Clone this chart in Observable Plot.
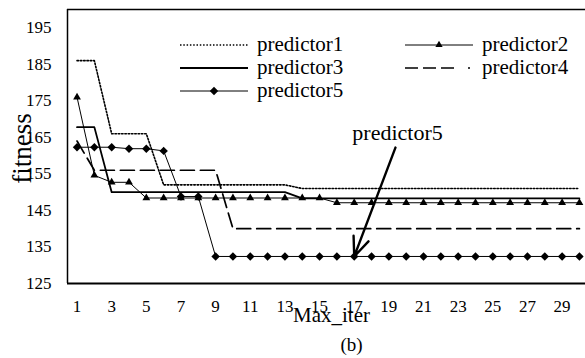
<!DOCTYPE html>
<html>
<head>
<meta charset="utf-8">
<script src="https://cdn.jsdelivr.net/npm/d3@7"></script>
<script src="https://cdn.jsdelivr.net/npm/@observablehq/plot@0.6"></script>
<style>
  html, body { margin: 0; padding: 0; background: #fff; }
  #chart { position: relative; width: 585px; height: 358px; }
  #chart svg, #chart svg text { font-family: "Liberation Serif", "Times New Roman", serif !important; }
</style>
</head>
<body>
<div id="chart"></div>
<script>
// ---- data ----
const iterations = [1,2,3,4,5,6,7,8,9,10,11,12,13,14,15,16,17,18,19,20,21,22,23,24,25,26,27,28,29,30];
const seriesNames = ["predictor1", "predictor2", "predictor3", "predictor4", "predictor5"];
const predictor1 = [186,186,166,166,166,152,152,152,152,152,152,152,152,151,151,151,151,151,151,151,151,151,151,151,151,151,151,151,151,151];
const predictor2 = [176,154.6,152.7,152.7,148.4,148.4,148.4,148.4,148.4,148.4,148.4,148.4,148.4,148.4,148.4,147.1,147.1,147.1,147.1,147.1,147.1,147.1,147.1,147.1,147.1,147.1,147.1,147.1,147.1,147.1];
const predictor3 = [167.8,167.8,150,150,150,150,150,150,150,150,150,150,150,148.3,148.3,148.3,148.3,148.3,148.3,148.3,148.3,148.3,148.3,148.3,148.3,148.3,148.3,148.3,148.3,148.3];
const predictor4 = [164,156,156,156,156,156,156,156,156,140,140,140,140,140,140,140,140,140,140,140,140,140,140,140,140,140,140,140,140,140];
const predictor5 = [162.3,162.3,162.3,161.9,161.9,161.3,148.8,148.8,132.4,132.4,132.4,132.4,132.4,132.4,132.4,132.4,132.4,132.4,132.4,132.4,132.4,132.4,132.4,132.4,132.4,132.4,132.4,132.4,132.4,132.4];
const xTicks = [1,3,5,7,9,11,13,15,17,19,21,23,25,27,29];
const yTicks = [125,135,145,155,165,175,185,195];
const xDomain = [0.45, 30.35];
const yDomain = [125, 200];
const xLabel = "Max_iter";
const yLabel = "fitness";
const caption = "(b)";
const annotationText = ["predictor5"];
const annotationAt = [19.5, 166.2];      // text position (x, fitness)
const arrowFrom = [19.38, 162.2];        // arrow tail (x, fitness)
const arrowTo = [17, 132.4];             // arrow tip (x, fitness)

// ---- build table ----
const valuesBy = {predictor1, predictor2, predictor3, predictor4, predictor5};
const rows = seriesNames.flatMap(name => iterations.map((it, i) => ({series: name, iter: it, fitness: valuesBy[name][i]})));
const of = name => rows.filter(d => d.series === name);

const font = "'Liberation Serif', 'Times New Roman', serif";

const chart = Plot.plot({
  width: 585,
  height: 358,
  marginLeft: 67,
  marginRight: 0,
  marginTop: 9,
  marginBottom: 75,
  style: {fontFamily: font, background: "white", color: "black", overflow: "visible"},
  x: {domain: xDomain},
  y: {domain: yDomain},
  marks: [
    Plot.axisX({ticks: xTicks, tickSize: 0, tickPadding: 16, fontSize: 17, label: null}),
    Plot.axisY({ticks: yTicks, tickSize: 0, tickPadding: 16, fontSize: 17, label: null}),
    // frame (left, top, bottom)
    Plot.ruleX([xDomain[0]], {stroke: "black", strokeWidth: 1.5}),
    Plot.ruleY([yDomain[1]], {stroke: "black", strokeWidth: 1.5}),
    Plot.ruleY([yDomain[0]], {stroke: "black", strokeWidth: 2}),
    // series
    Plot.line(of("predictor1"), {x: "iter", y: "fitness", stroke: "black", strokeWidth: 1.6, strokeDasharray: "1.5,1.8"}),
    Plot.line(of("predictor4"), {x: "iter", y: "fitness", stroke: "black", strokeWidth: 1.7, strokeDasharray: "14,6"}),
    Plot.line(of("predictor3"), {x: "iter", y: "fitness", stroke: "black", strokeWidth: 1.8}),
    Plot.line(of("predictor2"), {x: "iter", y: "fitness", stroke: "black", strokeWidth: 1}),
    Plot.dot(of("predictor2"), {x: "iter", y: "fitness", symbol: "triangle", r: 2.9, fill: "black", stroke: "none"}),
    Plot.line(of("predictor5"), {x: "iter", y: "fitness", stroke: "black", strokeWidth: 1}),
    Plot.dot(of("predictor5"), {x: "iter", y: "fitness", symbol: "diamond2", r: 3.8, fill: "black", stroke: "none"}),
    // annotation
    Plot.arrow([0], {x1: () => arrowFrom[0], y1: () => arrowFrom[1], x2: () => arrowTo[0], y2: () => arrowTo[1],
      stroke: "black", strokeWidth: 2.4, headLength: 13, headAngle: 45}),
    Plot.text(annotationText, {x: () => annotationAt[0], y: () => annotationAt[1], text: d => d, fontSize: 22, fill: "black"}),
    // axis titles and caption
    Plot.text([yLabel], {frameAnchor: "left", dx: -45, dy: 2, rotate: -90, fontSize: 27, fill: "black", textAnchor: "middle"}),
    Plot.text([xLabel], {frameAnchor: "bottom", dx: 5, dy: 38, fontSize: 21, fill: "black"}),
    Plot.text([caption], {frameAnchor: "bottom", dx: 25, dy: 67, fontSize: 19, fill: "black"})
  ]
});
document.getElementById("chart").appendChild(chart);

// ---- legend inside the plot area ----
const legendItems = [
  {name: "predictor1", col: 0, row: 0},
  {name: "predictor2", col: 1, row: 0},
  {name: "predictor3", col: 0, row: 1},
  {name: "predictor4", col: 1, row: 1},
  {name: "predictor5", col: 0, row: 2}
];
const colX = [180, 405];
const rowY = [45, 68, 91];
const lineLen = 68;
const styleOf = {
  predictor1: {w: 1.6, dash: "1.5,1.8"},
  predictor2: {w: 1, dash: null, sym: "triangle", r: 2.7},
  predictor3: {w: 1.8, dash: null},
  predictor4: {w: 1.7, dash: "13,5,13,5,13,14,2,20"},
  predictor5: {w: 1, dash: null, sym: "diamond", r: 3.8}
};
const svg = d3.select(chart);
const lg = svg.append("g").attr("font-family", font).attr("font-size", 21).attr("text-anchor", "start");
legendItems.forEach(it => {
  const x0 = colX[it.col], y0 = rowY[it.row], s = styleOf[it.name];
  lg.append("line").attr("x1", x0).attr("x2", x0 + lineLen).attr("y1", y0).attr("y2", y0)
    .attr("stroke", "black").attr("stroke-width", s.w).attr("stroke-dasharray", s.dash);
  if (s.sym === "triangle") {
    lg.append("path").attr("d", d3.symbol(d3.symbolTriangle, Math.PI * s.r * s.r)())
      .attr("transform", `translate(${x0 + lineLen / 2},${y0})`).attr("fill", "black");
  } else if (s.sym === "diamond") {
    lg.append("path").attr("d", d3.symbol(d3.symbolDiamond2, Math.PI * s.r * s.r)())
      .attr("transform", `translate(${x0 + lineLen / 2},${y0})`).attr("fill", "black");
  }
  lg.append("text").attr("x", x0 + lineLen + 9).attr("y", y0 + 6).attr("fill", "black")
    .attr("text-anchor", "start").text(it.name);
});
</script>
</body>
</html>
